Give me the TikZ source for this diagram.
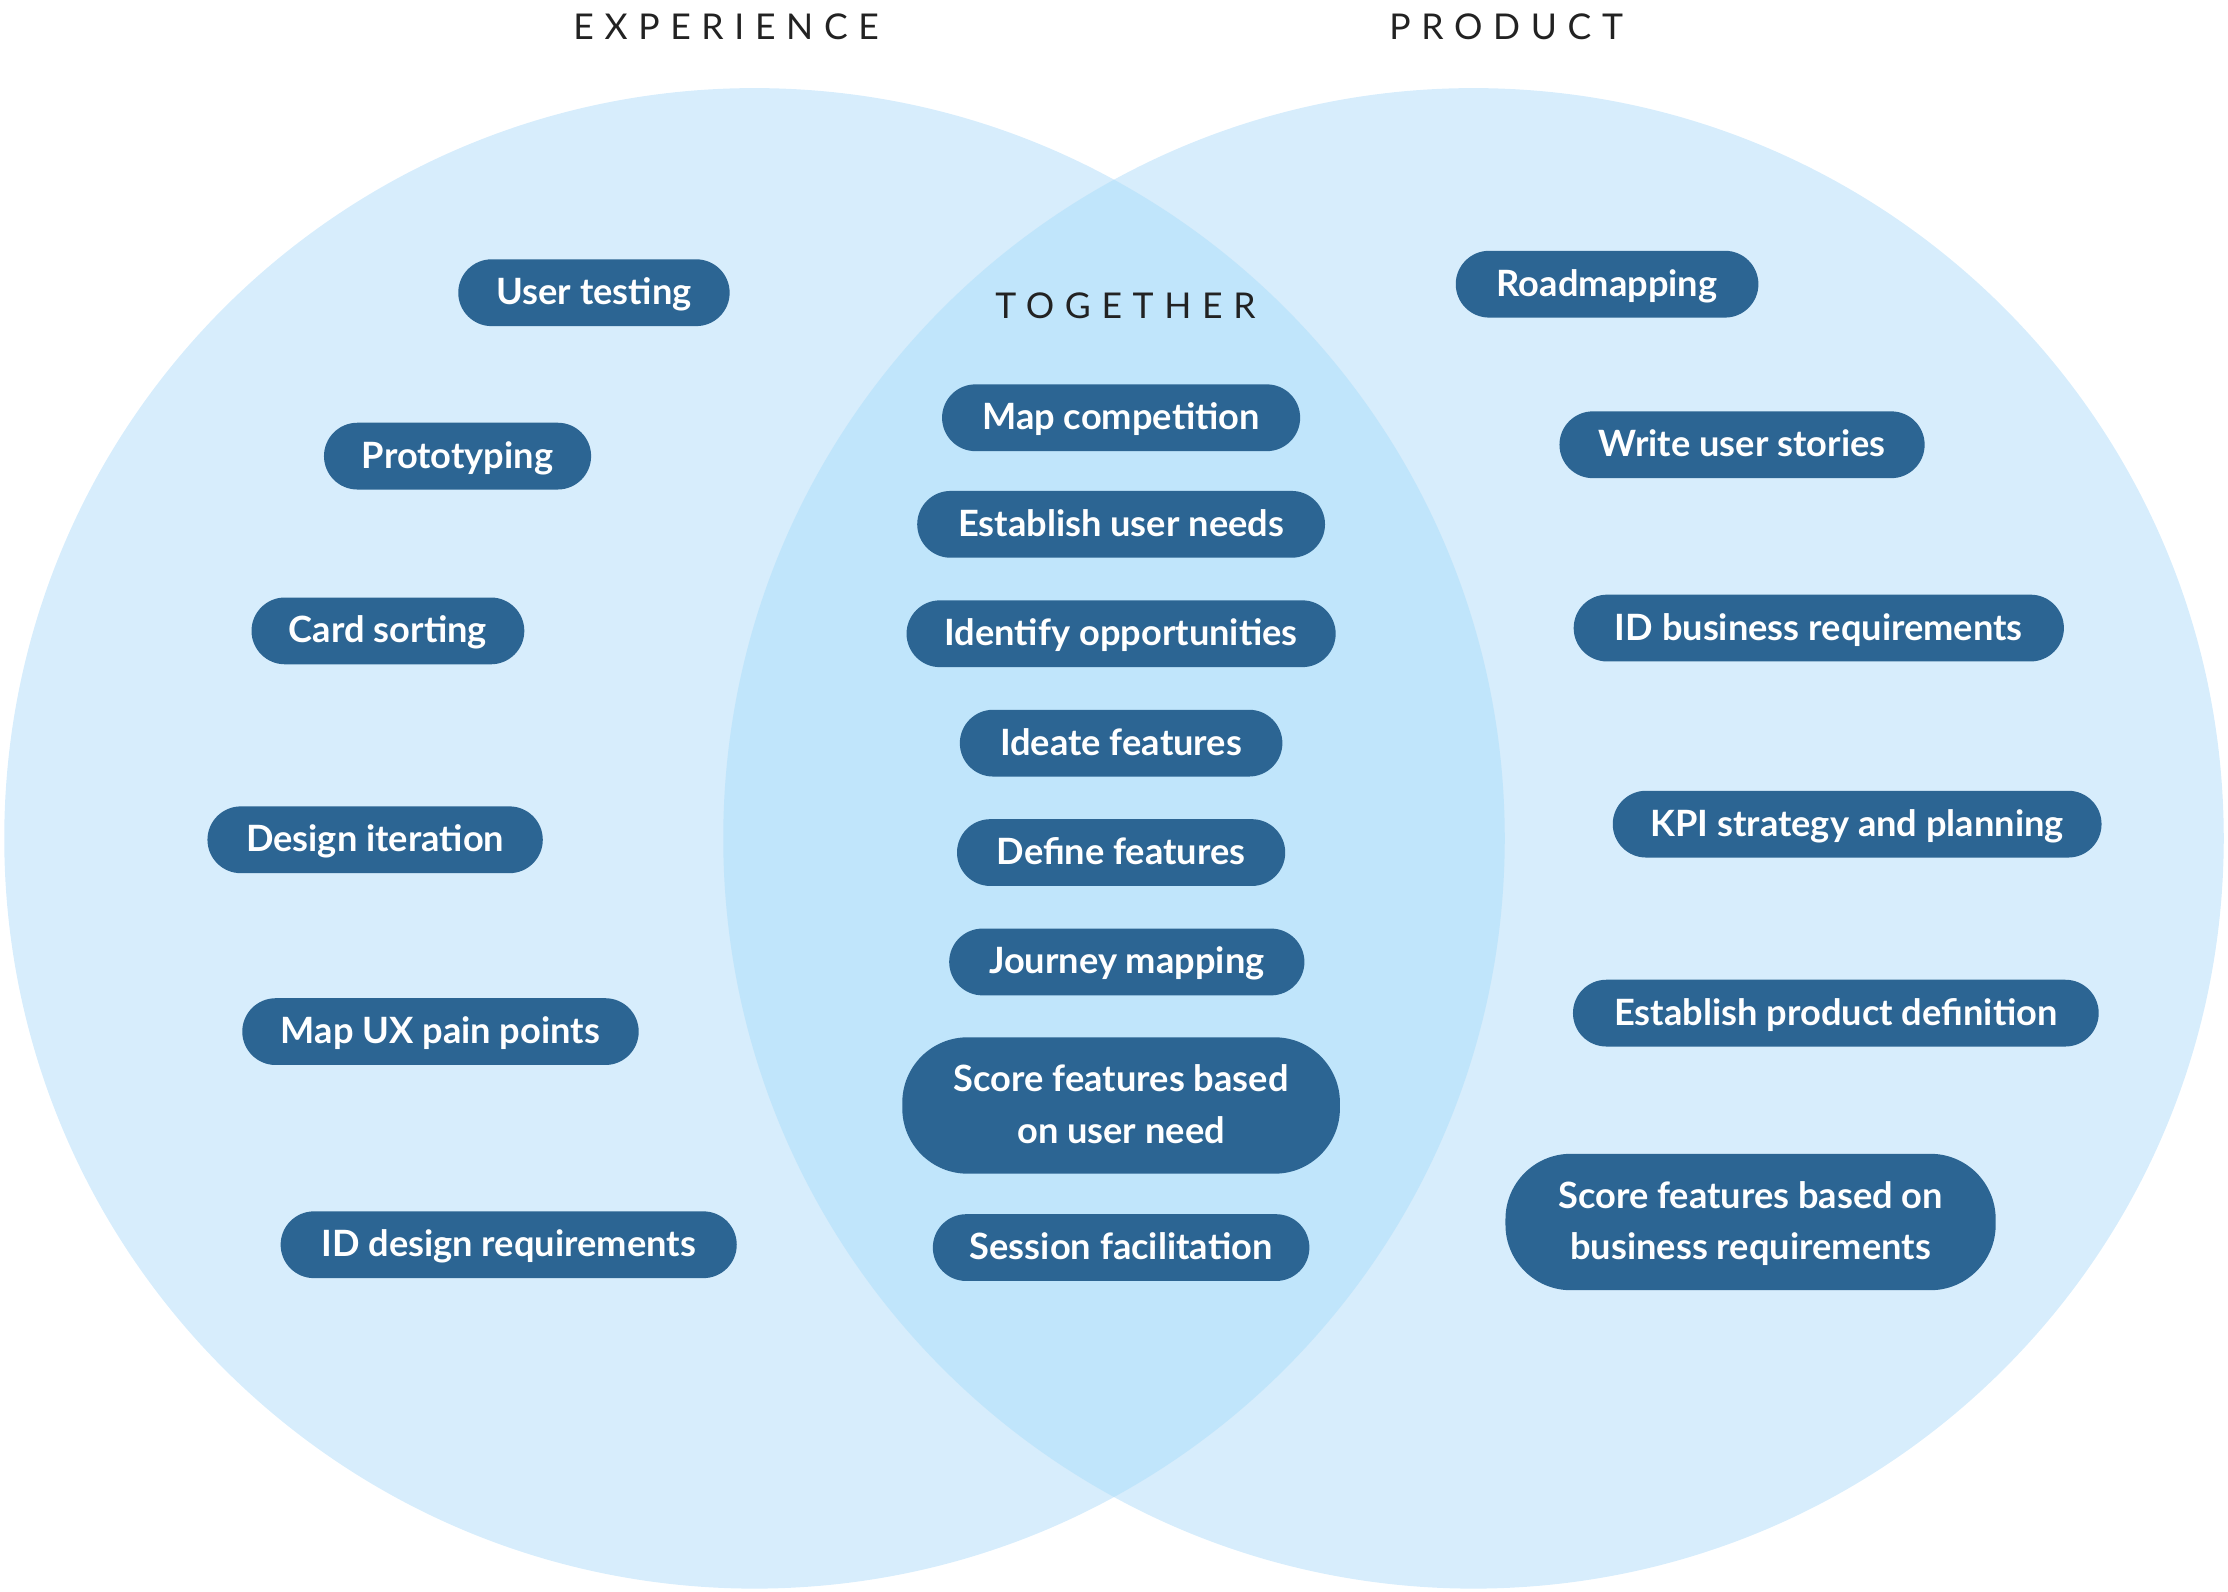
\documentclass[tikz,border=0pt]{standalone}
\usepackage{fontspec}
\setmainfont{Lato}
\newfontfamily\titlefont[LetterSpace=30]{Lato}
\usepackage{tikz}
\usetikzlibrary{positioning}

\definecolor{pillblue}{HTML}{2C6593}
\definecolor{circleblue}{HTML}{D7EDFC}
\definecolor{overlapblue}{HTML}{C0E5FB}
\definecolor{titlegray}{HTML}{222222}

\begin{document}
\begin{tikzpicture}[x=1pt, y=-1pt,
    pill/.style={fill=pillblue, text=white, minimum height=47pt, rounded corners=23.5pt, inner sep=0pt, align=center, text depth=2pt, font=\fontsize{25.5}{36}\selectfont\bfseries},
    tall/.style={minimum height=96pt, rounded corners=46pt},
    title/.style={text=titlegray, font=\fontsize{25}{30}\selectfont\titlefont}]
    \useasboundingbox (0,0) rectangle (1568,1120);

    % the two circles and their overlap
    \fill[circleblue] (531,590) circle (528pt);
    \fill[circleblue] (1037,590) circle (528pt);
    \begin{scope}
        \clip (531,590) circle (528pt);
        \fill[overlapblue] (1037,590) circle (528pt);
    \end{scope}

    % titles
    \node[title] (exp) at (511,19) {EXPERIENCE};
    \node[title] (prod) at (1060,19) {PRODUCT};
    \node[title] (together) at (792,215) {TOGETHER};

    % experience
    \node[pill, minimum width=191pt] (user) at (418,206) {User testing};
    \node[pill, minimum width=188pt] (proto) at (322,321) {Prototyping};
    \node[pill, minimum width=192pt] (card) at (273,444) {Card sorting};
    \node[pill, minimum width=236pt] (design) at (264,591) {Design iteration};
    \node[pill, minimum width=279pt] (painpts) at (310,726) {Map UX pain points};
    \node[pill, minimum width=321pt] (idreq) at (358,876) {ID design requirements};

    % together
    \node[pill, minimum width=252pt] (map) at (789,294) {Map competition};
    \node[pill, minimum width=287pt] (needs) at (789,369) {Establish user needs};
    \node[pill, minimum width=302pt] (opps) at (789,446) {Identify opportunities};
    \node[pill, minimum width=227pt] (ideate) at (789,523) {Ideate features};
    \node[pill, minimum width=231pt] (define) at (789,600) {Define features};
    \node[pill, minimum width=250pt] (journey) at (793,677) {Journey mapping};
    \node[pill, tall, minimum width=308pt] (scoreuser) at (789,778) {Score features based\\on user need};
    \node[pill, minimum width=265pt] (session) at (789,878) {Session facilitation};

    % product
    \node[pill, minimum width=213pt] (road) at (1131,200) {Roadmapping};
    \node[pill, minimum width=257pt] (stories) at (1226,313) {Write user stories};
    \node[pill, minimum width=345pt] (bizreq) at (1280,442) {ID business requirements};
    \node[pill, minimum width=344pt] (kpi) at (1307,580) {KPI strategy and planning};
    \node[pill, minimum width=370pt] (proddef) at (1292,713) {Establish product definition};
    \node[pill, tall, minimum width=345pt] (scorebiz) at (1232,860) {Score features based on\\business requirements};
\end{tikzpicture}
\end{document}
